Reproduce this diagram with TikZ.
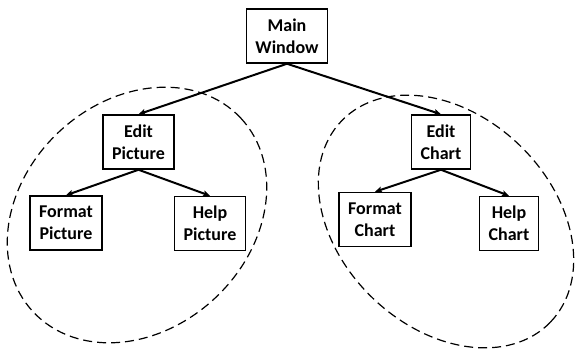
\documentclass[tikz,border=0pt]{standalone}
\usepackage{fontspec}
\setmainfont{Carlito}
\usetikzlibrary{arrows.meta}
\tikzset{
  box/.style={draw=black, line width=1.5pt, fill=white, align=center,
    inner xsep=9pt, inner ysep=2pt, minimum height=54pt,
    font=\fontsize{18}{22}\selectfont\bfseries},
  conn/.style={line width=2pt, -{Stealth[length=7pt,width=6pt,inset=1.5pt]}},
  group/.style={dashed, dash pattern=on 9pt off 5pt, line width=1.2pt}
}
\begin{document}
\begin{tikzpicture}[x=1pt,y=-1pt]
\useasboundingbox (0,0) rectangle (575,349);
% group outlines
\draw[group, rotate around={43:(137,215)}] (137,215) ellipse [x radius=142, y radius=114];
\draw[group, rotate around={-44:(446,221.5)}] (446,221.5) ellipse [x radius=145, y radius=106];
% nodes
\node[box] (mw) at (287,36) {Main\\Window};
\node[box] (ep) at (138.5,142) {Edit\\Picture};
\node[box] (ec) at (441,142) {Edit\\Chart};
\node[box] (fp) at (66,223) {Format\\Picture};
\node[box] (hp) at (210,223.5) {Help\\Picture};
\node[box] (fc) at (375,219.5) {Format\\Chart};
\node[box] (hc) at (509,223.5) {Help\\Chart};
% connectors
\draw[conn] (mw.south) -- (ep.north);
\draw[conn] (mw.south) -- (ec.north);
\draw[conn] (ep.south) -- (fp.north);
\draw[conn] (ep.south) -- (hp.north);
\draw[conn] (ec.south) -- (fc.north);
\draw[conn] (ec.south) -- (hc.north);
\end{tikzpicture}
\end{document}
